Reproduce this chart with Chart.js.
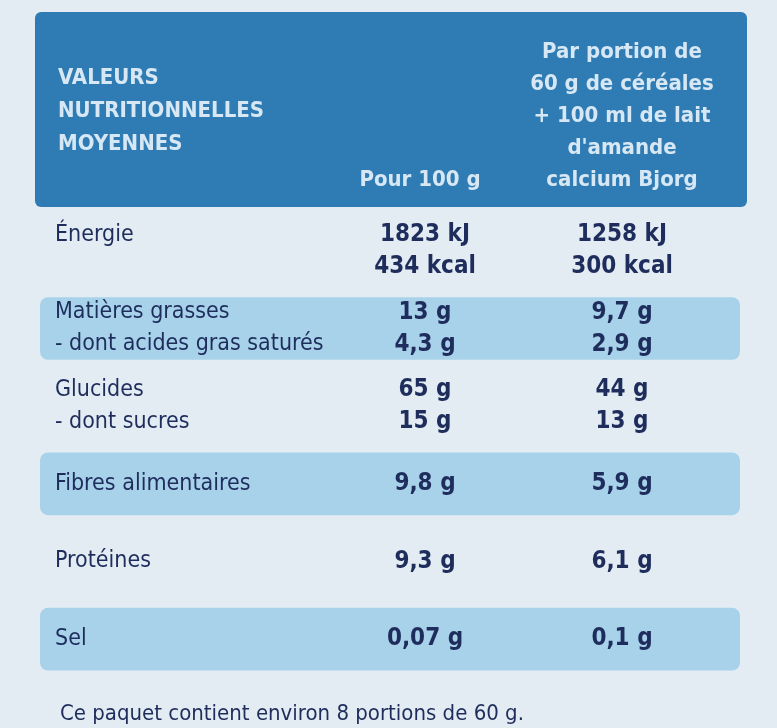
<!DOCTYPE html>
<html><head><meta charset="utf-8">
<script src="https://cdn.jsdelivr.net/npm/chart.js@4"></script>
<style>html,body{margin:0;background:#e3ecf2}#c{display:block}</style>
</head><body>
<div style="width:777px;height:728px"><canvas id="c"></canvas></div>
<script>
const rows = ['Énergie', 'Matières grasses', 'Glucides', 'Fibres alimentaires', 'Protéines', 'Sel'];
const subRows = ['', '- dont acides gras saturés', '- dont sucres', '', '', ''];
const per100 = [['1823 kJ', '434 kcal'], ['13 g', '4,3 g'], ['65 g', '15 g'], ['9,8 g'], ['9,3 g'], ['0,07 g']];
const perPortion = [['1258 kJ', '300 kcal'], ['9,7 g', '2,9 g'], ['44 g', '13 g'], ['5,9 g'], ['6,1 g'], ['0,1 g']];
const highlighted = [false, true, false, true, false, true];
const headerLeft = ['VALEURS', 'NUTRITIONNELLES', 'MOYENNES'];
const headerRight = ['Par portion de', '60 g de céréales', '+ 100 ml de lait', "d'amande", 'calcium Bjorg'];
const footer = 'Ce paquet contient environ 8 portions de 60 g.';

const ink = '#1e2d5c';
const font = (s, b) => (b ? 'bold ' : '') + s + 'px "DejaVu Sans Condensed", "Liberation Sans", sans-serif';

const tablePlugin = {
  id: 'table',
  beforeDatasetsDraw(chart) {
    const ctx = chart.ctx;
    ctx.save();
    ctx.fillStyle = '#2f7cb4';
    ctx.beginPath(); ctx.roundRect(35, 12, 712, 195, 6); ctx.fill();
    ctx.fillStyle = '#d7e8f4';
    ctx.font = font(22, true);
    ctx.textBaseline = 'middle';
    headerLeft.forEach((t, i) => ctx.fillText(t, 58, 78 + i * 33));
    ctx.textAlign = 'center';
    headerRight.forEach((t, i) => ctx.fillText(t, 622, 52 + i * 32));
    ctx.fillText('Pour 100 g', 420, 180);
    ctx.restore();
  },
  afterDatasetsDraw(chart) {
    const ctx = chart.ctx, y = chart.scales.y;
    ctx.save();
    ctx.fillStyle = ink;
    ctx.textBaseline = 'middle';
    rows.forEach((r, i) => {
      const cy = y.getPixelForValue(i);
      const two = per100[i].length > 1;
      const y1 = two ? cy - 16 : cy, y2 = cy + 16;
      ctx.textAlign = 'left';
      ctx.font = font(23, false);
      ctx.fillText(r, 55, y1);
      if (subRows[i]) ctx.fillText(subRows[i], 55, y2);
      ctx.font = font(24, true);
      ctx.textAlign = 'center';
      per100[i].forEach((v, k) => ctx.fillText(v, 425, k ? y2 : y1));
      perPortion[i].forEach((v, k) => ctx.fillText(v, 622, k ? y2 : y1));
    });
    ctx.textAlign = 'left';
    ctx.font = font(22, false);
    ctx.fillText(footer, 60, 714);
    ctx.restore();
  }
};

new Chart(document.getElementById('c'), {
  type: 'bar',
  data: {
    labels: rows,
    datasets: [{
      data: rows.map(() => [40, 740]),
      backgroundColor: highlighted.map(h => h ? '#a8d2ea' : 'rgba(0,0,0,0)'),
      borderRadius: 8,
      borderSkipped: false,
      barPercentage: 0.95,
      categoryPercentage: 0.85
    }]
  },
  options: {
    indexAxis: 'y',
    responsive: true,
    maintainAspectRatio: false,
    animation: false,
    layout: { padding: { top: 212, bottom: 50, left: 0, right: 0 } },
    plugins: { legend: { display: false }, tooltip: { enabled: false } },
    scales: {
      x: { type: 'linear', min: 0, max: 777, display: false },
      y: { display: false }
    }
  },
  plugins: [tablePlugin]
});
</script>
</body></html>
